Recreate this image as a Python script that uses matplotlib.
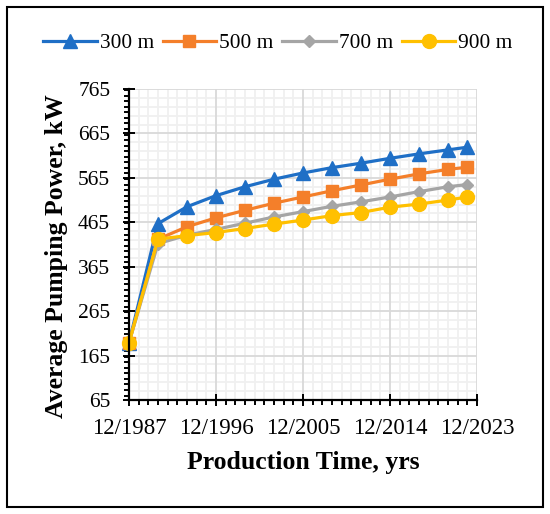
import matplotlib
matplotlib.use("Agg")
import matplotlib.pyplot as plt
import matplotlib.dates as mdates
from matplotlib.ticker import MultipleLocator, FixedLocator
from matplotlib.patches import Rectangle
import numpy as np
import datetime as dt

# ---- data ----
years = [1987, 1990, 1993, 1996, 1999, 2002, 2005, 2008, 2011, 2014, 2017, 2020, 2022]
s300 = [194, 462, 500, 525, 545, 562, 576, 588, 598, 609, 619, 628, 634]
s500 = [194, 427, 455, 475, 492, 508, 522, 536, 549, 562, 574, 584, 589]
s700 = [194, 417, 436, 449, 463, 477, 489, 501, 511, 522, 534, 545, 550]
s900 = [194, 427, 435, 442, 451, 461, 470, 480, 487, 499, 506, 515, 522]
series_labels = ["300 m", "500 m", "700 m", "900 m"]
tick_years = [1987, 1996, 2005, 2014, 2023]
y_ticks = [65, 165, 265, 365, 465, 565, 665, 765]

plt.rcParams['font.family'] = ['Liberation Serif', 'DejaVu Serif']

dates = [dt.date(y, 12, 1) for y in years]
tick_dates = [dt.date(y, 12, 1) for y in tick_years]

fig = plt.figure(figsize=(5.5, 5.14), dpi=100)
ax = fig.add_axes([129/550, 1 - 400/514, 348/550, 311/514])

styles = [
    dict(color='#1F6FC6', marker='^', ms=10),
    dict(color='#F47F2A', marker='s', ms=9),
    dict(color='#A5A5A5', marker='D', ms=6.5),
    dict(color='#FFC000', marker='o', ms=10),
]
for vals, lab, st in zip([s300, s500, s700, s900], series_labels, styles):
    ax.plot(dates, vals, color=st['color'], marker=st['marker'], ms=st['ms'],
            lw=2.3, label=lab, clip_on=False, zorder=3)

ax.set_xlim(tick_dates[0], tick_dates[-1])
ax.set_ylim(y_ticks[0], y_ticks[-1])

ax.xaxis.set_major_locator(FixedLocator(mdates.date2num(tick_dates)))
ax.xaxis.set_major_formatter(mdates.DateFormatter('%m/%Y'))
ax.xaxis.set_minor_locator(mdates.YearLocator(base=1, month=12, day=1))
ax.yaxis.set_major_locator(FixedLocator(y_ticks))
ax.yaxis.set_minor_locator(MultipleLocator(12.5))

# grid
ax.grid(which='major', color='#D9D9D9', lw=1.3, zorder=0)
ax.grid(which='minor', axis='x', color='#F0F0F0', lw=1.3, zorder=0)
for yv in np.arange(y_ticks[0], y_ticks[-1] + 1, 20):
    if (yv - y_ticks[0]) % 100 != 0:
        ax.axhline(yv, color='#F0F0F0', lw=1.3, zorder=0)
ax.set_axisbelow(True)

for s in ['top', 'right']:
    ax.spines[s].set_visible(False)
for s in ['left', 'bottom']:
    ax.spines[s].set_linewidth(1.6)
    ax.spines[s].set_zorder(4)

ax.tick_params(which='major', direction='inout', length=9, width=1.4)
ax.tick_params(which='minor', direction='out', length=3.5, width=1.4)
ax.tick_params(axis='y', which='major', labelsize=15.5, pad=9)
ax.tick_params(axis='x', which='major', labelsize=16.5, pad=8.5)

ax.set_xlabel('Production Time, yrs', fontsize=18.5, fontweight='bold')
ax.set_ylabel('Average Pumping Power, kW', fontsize=18.5, fontweight='bold')
ax.xaxis.set_label_coords(0.5, (400 - 462) / 311)
ax.xaxis.label.set_va('center')
ax.yaxis.set_label_coords((56 - 129) / 348, (400 - 256) / 311)
ax.yaxis.label.set_va('center')

fig.legend(loc='center', bbox_to_anchor=(278/550, 1 - 43/514), ncol=4, frameon=False,
           fontsize=15.4, handlelength=2.5, handletextpad=0.15, columnspacing=0.4)

fig.patches.append(Rectangle((7/550, 7/514), 536/550, 500/514, transform=fig.transFigure,
                             fill=False, edgecolor='black', lw=1.5))

fig.savefig('out.png', dpi=100)
